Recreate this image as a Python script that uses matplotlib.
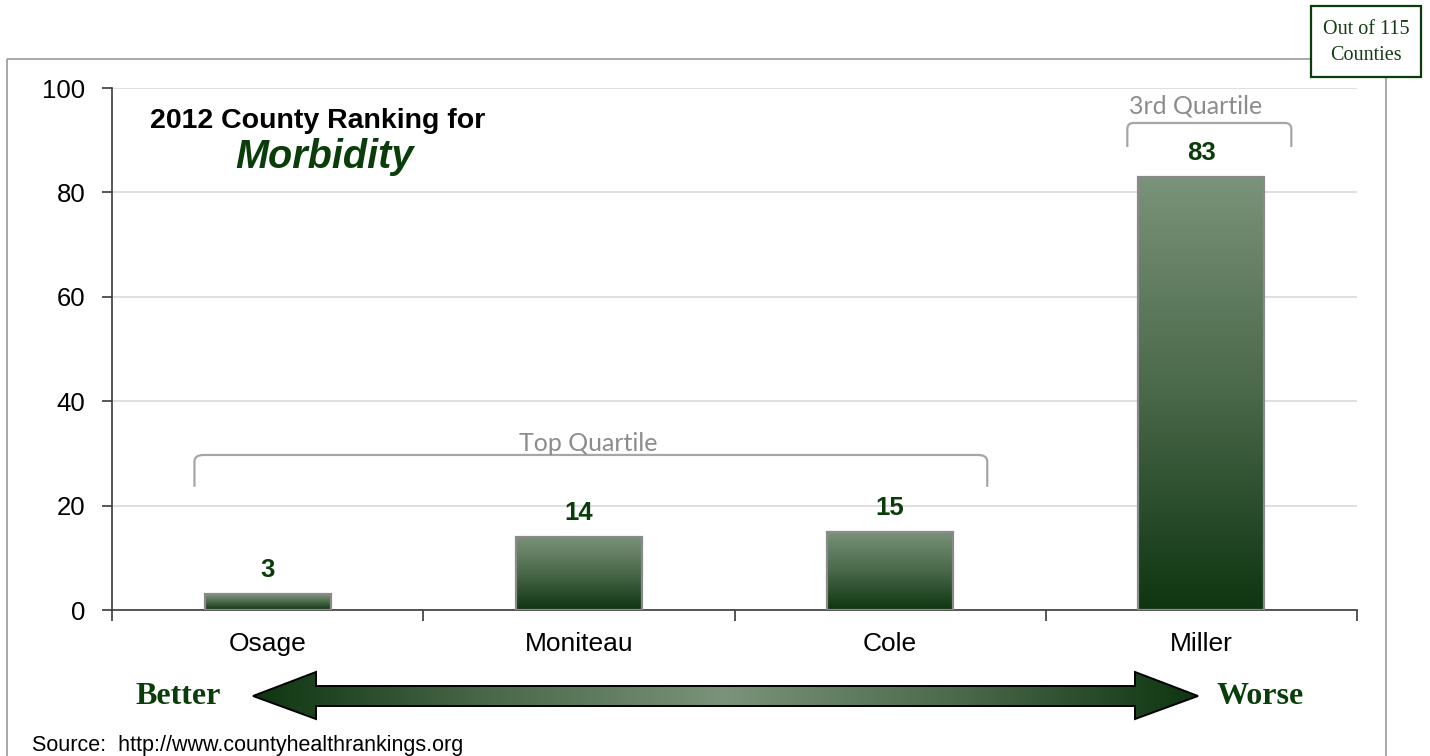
import numpy as np
import matplotlib
matplotlib.use('Agg')
import matplotlib.pyplot as plt
from matplotlib.patches import Polygon, Rectangle, PathPatch
from matplotlib.path import Path
from matplotlib.colors import LinearSegmentedColormap

# ---- data ----
counties = ['Osage', 'Moniteau', 'Cole', 'Miller']
ranks = [3, 14, 15, 83]
yticks = [0, 20, 40, 60, 80, 100]
total_counties = 115
title_line1 = '2012 County Ranking for'
title_line2 = 'Morbidity'

DARK = '#0e3510'
LIGHT = '#7a937a'
GREEN_TXT = '#0b3d0b'
cmap = LinearSegmentedColormap.from_list('g', [DARK, '#4a684a', LIGHT])

W, H = 1430, 756
fig = plt.figure(figsize=(W / 100, H / 100), dpi=100)
fig.patch.set_facecolor('white')

# background / overlay axes in pixel coordinates
bg = fig.add_axes([0, 0, 1, 1], zorder=0)
bg.axis('off')

# outer border
bg.add_patch(Rectangle((7, 59), 1386 - 7, 760 - 59, fill=False, ec='#9a9a9a', lw=1.2))

# main axes
ax = fig.add_axes([112 / W, 1 - 610 / H, 1245 / W, 522 / H], zorder=1)
ax.patch.set_alpha(0)

x = np.arange(len(counties))
bw = 0.405
bars = ax.bar(x, ranks, width=bw, color='none', edgecolor='#8a8a8a', lw=1.6, zorder=4)
grad = np.linspace(0, 1, 256).reshape(-1, 1)
for xi, v, b in zip(x, ranks, bars):
    im = ax.imshow(grad, extent=[xi - bw / 2, xi + bw / 2, 0, v], origin='lower',
                   cmap=cmap, aspect='auto', zorder=3, interpolation='bicubic')
    im.set_clip_path(b)
    ax.annotate(str(v), (xi, v), xytext=(0, 12), textcoords='offset pixels',
                ha='center', va='bottom', fontsize=18.5, fontweight='bold',
                color=GREEN_TXT, family='Liberation Sans', zorder=5)

ax.set_xlim(-0.5, len(counties) - 0.5)
ax.set_ylim(0, 100)
ax.set_yticks(yticks)
ax.yaxis.grid(True, color='#d9d9d9', lw=1.2, zorder=0)
ax.set_axisbelow(True)
for s in ['top', 'right']:
    ax.spines[s].set_visible(False)
for s in ['left', 'bottom']:
    ax.spines[s].set_color('#3a3a3a')
    ax.spines[s].set_linewidth(1.2)
ax.tick_params(axis='y', direction='out', length=7, width=1.2, color='#3a3a3a',
               labelsize=18.5, pad=12)
ax.set_xticks(x)
ax.set_xticklabels(counties)
ax.set_xticks(np.arange(-0.5, len(counties), 1.0), minor=True)
ax.tick_params(axis='x', which='major', length=0, labelsize=19, pad=16)
ax.tick_params(axis='x', which='minor', direction='out', length=8, width=1.2, color='#3a3a3a')
for lab in ax.get_xticklabels() + ax.get_yticklabels():
    lab.set_family('Liberation Sans')


def bracket(a, x0, x1, ytop, ybot, rx=0.03, ry=1.2):
    verts = [(x0, ybot), (x0, ytop - ry), (x0, ytop), (x0 + rx, ytop),
             (x1 - rx, ytop), (x1, ytop), (x1, ytop - ry), (x1, ybot)]
    codes = [Path.MOVETO, Path.LINETO, Path.CURVE3, Path.CURVE3,
             Path.LINETO, Path.CURVE3, Path.CURVE3, Path.LINETO]
    a.add_patch(PathPatch(Path(verts, codes), fill=False, ec='#a6a6a6', lw=1.6,
                          clip_on=False, zorder=5))


bracket(ax, -0.235, 2.312, 29.7, 23.6)
ax.text(1.03, 30.5, 'Top Quartile', ha='center', va='baseline', fontsize=18,
        color='#8c8c8c', family='Lato', zorder=5)
bracket(ax, 2.762, 3.289, 93.3, 88.7, rx=0.02)
ax.text(2.98, 95.2, '3rd Quartile', ha='center', va='baseline', fontsize=18,
        color='#8c8c8c', family='Lato', zorder=5, clip_on=False)

# title
bg.text(150, 128, title_line1, ha='left', va='baseline', fontsize=20.5,
        fontweight='bold', family='Liberation Sans', color='black')
bg.text(235, 168, title_line2, ha='left', va='baseline', fontsize=28.5,
        fontweight='bold', fontstyle='italic', family='Liberation Sans', color=GREEN_TXT)

# double arrow with gradient
cy = 696
pts = [(253, cy), (316, 672), (316, 686), (1135, 686), (1135, 672), (1198, cy),
       (1135, 719), (1135, 706), (316, 706), (316, 719)]
arrow = Polygon(pts, closed=True, fc='none', ec='black', lw=1.4, zorder=3)
bg.add_patch(arrow)
t = np.linspace(0, 1, 512)
hgrad = (1 - np.abs(2 * t - 1)).reshape(1, -1)
im = bg.imshow(hgrad, extent=[253, 1198, 719, 672], cmap=cmap, aspect='auto',
               zorder=2, interpolation='bicubic')
im.set_clip_path(arrow)

bg.text(178, 697, 'Better', ha='center', va='center', fontsize=23, fontweight='bold',
        family='Liberation Serif', color=GREEN_TXT)
bg.text(1260, 697, 'Worse', ha='center', va='center', fontsize=23, fontweight='bold',
        family='Liberation Serif', color=GREEN_TXT)

bg.text(32, 746, 'Source:  http://www.countyhealthrankings.org', ha='left', va='center',
        fontsize=15.5, family='Liberation Sans', color='black')

# "Out of 115 Counties" box
bg.add_patch(Rectangle((1311, 6), 110, 71, fc='white', ec=GREEN_TXT, lw=1.6, zorder=6))
bg.text(1366, 30, f'Out of {total_counties}', ha='center', va='center', fontsize=14.5,
        family='Liberation Serif', color='#153d15', zorder=7)
bg.text(1366, 55, 'Counties', ha='center', va='center', fontsize=14.5,
        family='Liberation Serif', color='#153d15', zorder=7)

bg.set_xlim(0, W)
bg.set_ylim(H, 0)

fig.savefig('out.png', dpi=100, facecolor='white')
